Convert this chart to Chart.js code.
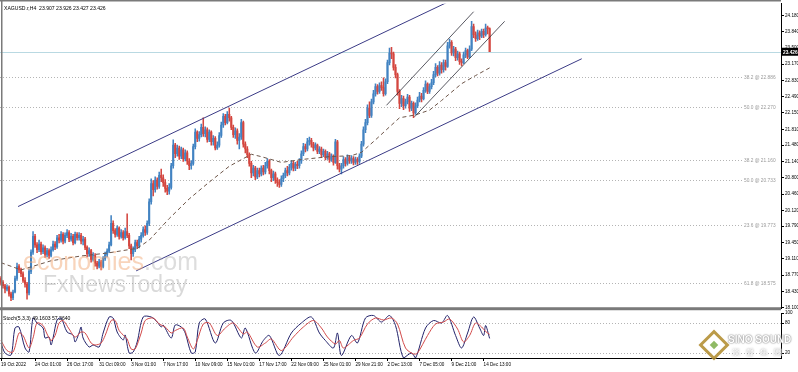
<!DOCTYPE html>
<html>
<head>
<meta charset="utf-8">
<script src="https://cdn.jsdelivr.net/npm/chart.js@4.4.1/dist/chart.umd.min.js"></script>
<style>
  html, body { margin: 0; padding: 0; background: #fff; }
  #wrap { position: relative; width: 798px; height: 372px; overflow: hidden; background: #fff; font-family: "Liberation Sans", sans-serif; }
  #mainBox { position: absolute; left: 0; top: 0; width: 798px; height: 312px; }
  #oscBox { position: absolute; left: 0; top: 300px; width: 798px; height: 72px; }
  .lbl { position: absolute; font-size: 5.1px; color: #000; white-space: pre; }
  .wm { position: absolute; font-family: "Liberation Sans", Arial, sans-serif; white-space: pre; pointer-events: none; }
  #logo { position: absolute; left: 703px; top: 334px; width: 22px; height: 22px; transform: rotate(45deg); border: 3px solid #b08a2a; background: #fff; box-sizing: border-box; opacity: .85; }
  #logo i { position: absolute; left: 5px; top: 5px; width: 6px; height: 6px; background: #7cae4a; }
</style>
</head>
<body>
<div id="wrap">
  <div id="mainBox"><canvas id="main" width="798" height="312"></canvas></div>
  <div id="oscBox"><canvas id="osc" width="798" height="72"></canvas></div>
  <div class="lbl" style="left:4px;top:5px">XAGUSD.r,H4  23.907 23.926 23.427 23.426</div>
  <div class="lbl" style="left:3px;top:315px">Stoch(5,3,3) 49.1603 57.2640</div>
  <div class="wm" style="left:23px;top:247px;font-size:25px;color:rgba(241,170,120,.5)">economies<span style="color:rgba(170,170,170,.4)">.com</span></div>
  <div class="wm" style="left:43px;top:271px;font-size:23px;color:rgba(160,160,160,.4)">FxNewsToday</div>
  <div id="logo"><i></i></div>
  <div class="wm" style="left:728px;top:334px;font-size:10px;font-weight:bold;color:#fff;text-shadow:0 0 2px #888,0 0 1px #666">SINO SOUND</div>
  <div class="wm" style="left:732px;top:347px;font-size:8px;letter-spacing:6px;color:#fff;text-shadow:0 0 2px #888">漢聲集團</div>
</div>
<script>
// XAGUSD H4, 19 Oct 2022 - 14 Dec 2022 (one entry per bar)
const firstOpen = 18.70;
const closes = [
  18.62, 18.55, 18.48, 18.52, 18.38, 18.30, 18.42, 18.70, 18.95, 18.88,
  18.80, 18.66, 18.58, 18.40, 18.85, 19.25, 19.58, 19.40, 19.30, 19.42,
  19.26, 19.34, 19.20, 19.28, 19.18, 19.30, 19.42, 19.36, 19.55, 19.50,
  19.62, 19.48, 19.60, 19.66, 19.52, 19.58, 19.45, 19.62, 19.55, 19.60,
  19.48, 19.52, 19.35, 19.22, 19.28, 19.10, 19.18, 19.02, 18.96, 19.05,
  18.95, 19.12, 19.20, 19.27, 19.40, 19.85, 19.70, 19.62, 19.75, 19.58,
  19.66, 19.55, 19.68, 19.60, 19.38, 19.22, 19.30, 19.45, 19.38, 19.52,
  19.60, 19.72, 19.66, 19.85, 20.30, 20.68, 20.55, 20.75, 20.62, 20.85,
  20.80, 20.70, 20.58, 20.52, 20.60, 21.05, 21.48, 21.30, 21.42, 21.25,
  21.38, 21.20, 21.32, 21.15, 21.05, 21.10, 21.45, 21.75, 21.62, 21.70,
  21.85, 21.72, 21.80, 21.60, 21.75, 21.55, 21.62, 21.42, 21.48, 21.68,
  21.90, 22.08, 21.95, 22.12, 22.05, 21.85, 21.70, 21.78, 21.58, 21.65,
  21.95, 21.50, 21.40, 21.28, 21.10, 20.90, 21.00, 20.82, 20.95, 20.88,
  21.00, 20.92, 21.05, 21.15, 20.95, 20.80, 20.88, 20.75, 20.70, 20.66,
  20.78, 20.85, 20.95, 20.90, 21.02, 21.10, 21.00, 21.08, 21.05, 21.15,
  21.30, 21.45, 21.40, 21.55, 21.58, 21.50, 21.42, 21.48, 21.35, 21.40,
  21.28, 21.35, 21.22, 21.30, 21.18, 21.25, 21.12, 21.55, 21.05, 20.98,
  21.05, 21.18, 21.10, 21.22, 21.15, 21.20, 21.12, 21.18, 21.14, 21.25,
  21.50, 21.80, 21.95, 22.25, 22.10, 22.38, 22.55, 22.70, 22.60, 22.72,
  22.68, 22.55, 22.80, 23.20, 23.40, 23.38, 23.10, 22.95, 22.60, 22.35,
  22.45, 22.30, 22.38, 22.48, 22.25, 22.35, 22.15, 22.30, 22.42, 22.50,
  22.45, 22.62, 22.75, 22.60, 22.70, 22.78, 22.95, 23.10, 22.98, 23.15,
  23.05, 23.20, 23.12, 23.55, 23.62, 23.40, 23.48, 23.30, 23.38, 23.22,
  23.20, 23.36, 23.45, 23.32, 23.48, 23.95, 23.78, 23.70, 23.82, 23.75,
  23.85, 23.78, 23.92, 23.907, 23.426
];
const highs = [
  18.74, 18.66, 18.58, 18.57, 18.55, 18.42, 18.46, 18.75, 19.02, 18.99,
  18.92, 18.84, 18.72, 18.62, 18.90, 19.30, 19.68, 19.62, 19.45, 19.50,
  19.46, 19.40, 19.38, 19.33, 19.32, 19.36, 19.48, 19.47, 19.60, 19.62,
  19.68, 19.66, 19.65, 19.72, 19.70, 19.64, 19.62, 19.67, 19.66, 19.66,
  19.64, 19.58, 19.56, 19.38, 19.34, 19.31, 19.24, 19.22, 19.06, 19.10,
  19.08, 19.16, 19.25, 19.32, 19.46, 20.01, 19.90, 19.74, 19.80, 19.78,
  19.72, 19.70, 19.75, 20.05, 19.64, 19.42, 19.36, 19.50, 19.50, 19.58,
  19.66, 19.78, 19.80, 19.90, 20.36, 20.78, 20.74, 20.82, 20.80, 20.92,
  20.98, 20.86, 20.76, 20.64, 20.68, 21.10, 21.59, 21.52, 21.48, 21.46,
  21.44, 21.42, 21.38, 21.36, 21.20, 21.16, 21.50, 21.82, 21.78, 21.76,
  21.92, 22.05, 21.86, 21.84, 21.80, 21.78, 21.68, 21.66, 21.55, 21.74,
  21.96, 22.14, 22.12, 22.18, 22.25, 22.08, 21.90, 21.84, 21.82, 21.72,
  22.02, 21.98, 21.55, 21.45, 21.32, 21.14, 21.06, 21.04, 21.00, 21.00,
  21.05, 21.06, 21.12, 21.20, 21.18, 20.98, 20.94, 20.92, 20.80, 20.76,
  20.84, 20.90, 21.00, 21.04, 21.08, 21.16, 21.14, 21.12, 21.14, 21.20,
  21.36, 21.52, 21.50, 21.62, 21.65, 21.62, 21.54, 21.53, 21.50, 21.45,
  21.44, 21.40, 21.38, 21.35, 21.33, 21.30, 21.28, 21.60, 21.58, 21.10,
  21.10, 21.24, 21.22, 21.28, 21.26, 21.26, 21.24, 21.23, 21.22, 21.30,
  21.56, 21.86, 22.02, 22.32, 22.38, 22.44, 22.62, 22.76, 22.74, 22.78,
  22.80, 22.88, 22.86, 23.25, 23.50, 23.52, 23.42, 23.16, 22.98, 22.64,
  22.52, 22.50, 22.44, 22.54, 22.52, 22.40, 22.38, 22.36, 22.48, 22.58,
  22.56, 22.68, 22.82, 22.78, 22.76, 22.85, 23.02, 23.18, 23.14, 23.22,
  23.20, 23.26, 23.25, 23.62, 23.69, 23.66, 23.54, 23.52, 23.44, 23.42,
  23.28, 23.42, 23.50, 23.48, 23.55, 24.06, 24.00, 23.84, 23.88, 23.86,
  23.90, 23.90, 24.00, 23.96, 23.926
];
const lows = [
  18.56, 18.50, 18.40, 18.44, 18.33, 18.24, 18.26, 18.40, 18.66, 18.82,
  18.74, 18.62, 18.52, 18.27, 18.36, 18.80, 19.20, 19.35, 19.24, 19.26,
  19.20, 19.22, 19.14, 19.15, 19.12, 19.15, 19.27, 19.30, 19.33, 19.44,
  19.46, 19.42, 19.44, 19.55, 19.47, 19.48, 19.40, 19.42, 19.50, 19.50,
  19.42, 19.40, 19.30, 19.15, 19.16, 19.04, 19.06, 18.96, 18.90, 18.92,
  18.88, 18.92, 19.08, 19.15, 19.24, 19.38, 19.64, 19.56, 19.58, 19.52,
  19.54, 19.50, 19.52, 19.55, 19.32, 19.09, 19.16, 19.26, 19.32, 19.34,
  19.46, 19.56, 19.60, 19.62, 19.80, 20.25, 20.42, 20.50, 20.56, 20.58,
  20.72, 20.62, 20.50, 20.45, 20.46, 20.56, 21.00, 21.22, 21.25, 21.18,
  21.20, 21.14, 21.15, 21.08, 20.97, 20.98, 21.06, 21.40, 21.55, 21.56,
  21.65, 21.66, 21.65, 21.54, 21.55, 21.48, 21.48, 21.38, 21.39, 21.44,
  21.64, 21.85, 21.90, 21.92, 21.98, 21.80, 21.64, 21.62, 21.50, 21.40,
  21.60, 21.44, 21.32, 21.22, 21.04, 20.80, 20.84, 20.76, 20.78, 20.82,
  20.84, 20.86, 20.88, 21.00, 20.88, 20.72, 20.74, 20.68, 20.62, 20.60,
  20.62, 20.72, 20.80, 20.84, 20.86, 20.96, 20.94, 20.95, 20.99, 21.00,
  21.10, 21.26, 21.34, 21.36, 21.48, 21.44, 21.36, 21.38, 21.30, 21.30,
  21.22, 21.24, 21.17, 21.18, 21.12, 21.14, 21.06, 21.10, 20.98, 20.92,
  20.88, 21.00, 21.04, 21.06, 21.10, 21.10, 21.07, 21.08, 21.08, 21.10,
  21.22, 21.46, 21.74, 21.90, 22.05, 22.06, 22.34, 22.50, 22.54, 22.56,
  22.62, 22.50, 22.52, 22.76, 23.15, 23.28, 23.04, 22.88, 22.52, 22.24,
  22.28, 22.22, 22.25, 22.34, 22.18, 22.20, 22.05, 22.12, 22.26, 22.38,
  22.38, 22.42, 22.58, 22.55, 22.56, 22.65, 22.74, 22.90, 22.92, 22.94,
  22.98, 23.00, 23.04, 23.10, 23.50, 23.35, 23.34, 23.24, 23.25, 23.16,
  23.13, 23.18, 23.30, 23.28, 23.30, 23.45, 23.72, 23.64, 23.66, 23.68,
  23.72, 23.72, 23.75, 23.80, 23.427
];

// moving average (dashed), read at sparse bars
const maIdx  = [0, 10, 25, 40, 53, 68, 74, 84, 94, 104, 114, 125, 130, 140, 150, 164, 175, 180, 187, 194, 199, 207, 214, 220, 230, 237, 244];
const maVals = [19.03, 18.88, 19.07, 19.17, 19.23, 19.33, 19.50, 19.95, 20.36, 20.71, 21.04, 21.29, 21.24, 21.12, 21.18, 21.24, 21.26, 21.33, 21.59, 21.86, 22.05, 22.11, 22.21, 22.41, 22.76, 22.93, 23.09];

// trend channel lines: [bar, price] end points
const channelUpper = [[8.5, 20.20], [222.5, 24.45]];
const channelLower = [[67.5, 18.86], [290, 23.28]];
const innerUpper   = [[192.5, 22.31], [236, 24.26]];
const innerLower   = [[206.5, 22.07], [251.5, 24.06]];

// fibonacci levels
const fibPrices = [22.89, 22.27, 21.16, 20.75, 19.81, 18.60];
const fibLabels = ['38.2 @ 22.886', '50.0 @ 22.270', '38.2 @ 21.160', '50.0 @ 20.733', '23.6 @ 19.773', '61.8 @ 18.575'];
const bidPrice = 23.426;

// price axis tick labels
const yTicks = [24.180, 23.840, 23.500, 23.170, 22.830, 22.490, 22.150, 21.810, 21.480, 21.140,
                20.800, 20.460, 20.120, 19.790, 19.450, 19.110, 18.770, 18.430, 18.100];

// time axis
const xTickIdx = [0, 17, 33, 49, 65, 81, 97, 113, 129, 145, 161, 177, 193, 209, 225, 241];
const xTickLabels = ['19 Oct 2022', '24 Oct 01:00', '26 Oct 17:00', '31 Oct 09:00', '3 Nov 01:00', '7 Nov 17:00',
  '10 Nov 09:00', '15 Nov 01:00', '17 Nov 17:00', '22 Nov 09:00', '25 Nov 01:00', '29 Nov 21:00',
  '2 Dec 13:00', '7 Dec 05:00', '9 Dec 21:00', '14 Dec 13:00'];

// Stochastic (5,3,3), read at turning points
const kIdx  = [0, 2, 5, 7, 9, 12, 14, 16, 18, 21, 22, 24, 25, 26, 28, 30, 33, 36, 37, 39, 40, 41, 44, 46, 49, 51, 54, 56, 58, 61, 62, 64, 66, 68, 71, 75, 78, 80, 81, 85, 87, 90, 92, 95, 97, 99,
               102, 107, 111, 115, 120, 122, 127, 131, 134, 139, 145, 150, 155, 159, 162, 166, 168, 170, 175, 178, 182, 186, 190, 194, 197, 201, 205, 207, 212, 216, 220, 223, 227, 230, 233, 236, 239, 241, 242, 244];
const kVals = [40, 20, 16, 70, 72, 30, 22, 90, 80, 70, 50, 52, 36, 50, 86, 90, 62, 56, 42, 60, 72, 50, 32, 36, 32, 60, 92, 90, 62, 46, 56, 20, 22, 42, 92, 92, 82, 72, 76, 50, 76, 72, 60, 20, 22, 80,
               88, 40, 80, 85, 50, 70, 20, 45, 55, 15, 60, 80, 92, 60, 45, 30, 60, 15, 55, 40, 90, 95, 82, 95, 75, 10, 20, 10, 70, 85, 80, 95, 55, 30, 60, 92, 70, 55, 75, 49.16];
const dIdx  = [0, 3, 6, 9, 11, 14, 16, 18, 21, 23, 25, 27, 29, 31, 34, 37, 40, 42, 45, 47, 50, 52, 55, 57, 59, 62, 63, 65, 67, 70, 72, 76, 79, 82, 85, 87, 91, 93, 96, 98,
               101, 104, 108, 112, 116, 121, 123, 128, 132, 135, 140, 146, 151, 156, 160, 163, 167, 169, 171, 176, 179, 183, 187, 191, 195, 198, 202, 206, 208, 213, 217, 221, 224, 228, 231, 234, 237, 240, 242, 244];
const dVals = [45, 25, 22, 60, 55, 30, 50, 80, 75, 58, 45, 55, 80, 85, 68, 52, 62, 60, 40, 36, 40, 55, 85, 85, 65, 52, 48, 28, 28, 60, 85, 90, 78, 72, 60, 65, 70, 52, 28, 45,
               78, 80, 55, 70, 80, 58, 62, 32, 40, 48, 25, 52, 72, 85, 70, 52, 38, 45, 30, 45, 50, 78, 90, 86, 90, 78, 30, 18, 20, 55, 78, 82, 88, 68, 42, 55, 80, 72, 63, 57.26];
const stochLevels = [80, 20];

const X_MIN = -0.5, X_MAX = 389.5;
const UP = '#4283c2', DOWN = '#d4463f';

const opens = closes.map((c, i) => i === 0 ? firstOpen : closes[i - 1]);
const barColors = closes.map((c, i) => c >= opens[i] ? UP : DOWN);
const pts = (idx, vals) => idx.map((x, k) => ({ x: x, y: vals[k] }));
const seg = (p) => p.map(q => ({ x: q[0], y: q[1] }));
const tiny = { family: 'Liberation Sans', size: 4.6 };

Chart.defaults.animation = false;
Chart.defaults.font.family = 'Liberation Sans';

const mainDecor = {
  id: 'mainDecor',
  beforeDatasetsDraw(chart) {
    const { ctx, chartArea: a, scales: { y } } = chart;
    ctx.save();
    ctx.font = '4.8px "Liberation Sans"';
    ctx.lineWidth = 1;
    ctx.setLineDash([1, 2]);
    ctx.strokeStyle = '#b4b4b4';
    ctx.fillStyle = '#9a9a9a';
    fibPrices.forEach((p, k) => {
      const py = Math.round(y.getPixelForValue(p)) + 0.5;
      ctx.beginPath(); ctx.moveTo(a.left, py); ctx.lineTo(a.right - 39, py); ctx.stroke();
      ctx.fillText(fibLabels[k], a.right - 37, py + 1.5);
    });
    ctx.setLineDash([]);
    ctx.strokeStyle = '#b9d9e2';
    const by = Math.round(y.getPixelForValue(bidPrice)) + 0.5;
    ctx.beginPath(); ctx.moveTo(a.left, by); ctx.lineTo(a.right, by); ctx.stroke();
    ctx.restore();
  },
  afterDraw(chart) {
    const { ctx, chartArea: a, scales: { y } } = chart;
    ctx.save();
    ctx.fillStyle = '#7a7a7a';
    ctx.fillRect(0, a.bottom - 1, a.right, 3);
    ctx.fillRect(1, 0, 1.5, chart.height);
    ctx.fillRect(0, 0, a.right, 1.5);
    const by = y.getPixelForValue(bidPrice);
    ctx.fillStyle = '#000';
    ctx.fillRect(a.right + 1, by - 4, 17, 8);
    ctx.fillStyle = '#fff';
    ctx.font = 'bold 4.8px "Liberation Sans"';
    ctx.textBaseline = 'middle';
    ctx.fillText(bidPrice.toFixed(3), a.right + 2, by + 0.5);
    ctx.restore();
  }
};

new Chart(document.getElementById('main'), {
  data: {
    datasets: [
      { type: 'bar', data: closes.map((c, i) => ({ x: i, y: [lows[i], highs[i]] })), backgroundColor: barColors, barThickness: 0.9, grouped: false, order: 3 },
      { type: 'bar', data: closes.map((c, i) => ({ x: i, y: [opens[i], c] })), backgroundColor: barColors, barThickness: 1.4, minBarLength: 1, grouped: false, order: 2 },
      { type: 'line', data: pts(maIdx, maVals), borderColor: '#6d5548', borderWidth: 1, borderDash: [4, 3], pointRadius: 0, spanGaps: true, order: 1 },
      { type: 'line', data: seg(channelUpper), borderColor: '#3b3b86', borderWidth: 1, pointRadius: 0, order: 0 },
      { type: 'line', data: seg(channelLower), borderColor: '#3b3b86', borderWidth: 1, pointRadius: 0, order: 0 },
      { type: 'line', data: seg(innerUpper), borderColor: '#2e2e3a', borderWidth: 0.8, pointRadius: 0, order: 0 },
      { type: 'line', data: seg(innerLower), borderColor: '#2e2e3a', borderWidth: 0.8, pointRadius: 0, order: 0 }
    ]
  },
  options: {
    responsive: false,
    layout: { padding: { left: 0, right: 0, top: 2, bottom: 1 } },
    plugins: { legend: { display: false }, tooltip: { enabled: false } },
    scales: {
      x: { type: 'linear', min: X_MIN, max: X_MAX, offset: false, bounds: 'data', display: false, grid: { offset: false } },
      y: {
        position: 'right', min: 18.081, max: 24.426,
        afterFit: s => { s.width = 17; },
        afterBuildTicks: s => { s.ticks = yTicks.map(v => ({ value: v })); },
        ticks: { autoSkip: false, font: tiny, color: '#000', padding: 1, callback: v => Number(v).toFixed(3) },
        grid: { drawOnChartArea: false, tickLength: 3, color: '#000' },
        border: { color: '#000' }
      }
    }
  },
  plugins: [mainDecor]
});

const oscDecor = {
  id: 'oscDecor',
  beforeDatasetsDraw(chart) {
    const { ctx, chartArea: a, scales: { y } } = chart;
    ctx.save();
    ctx.setLineDash([1, 2]);
    ctx.strokeStyle = '#b4b4b4';
    stochLevels.forEach(v => {
      const py = Math.round(y.getPixelForValue(v)) + 0.5;
      ctx.beginPath(); ctx.moveTo(a.left, py); ctx.lineTo(a.right, py); ctx.stroke();
    });
    ctx.restore();
  },
  afterDraw(chart) {
    const { ctx, chartArea: a } = chart;
    ctx.save();
    ctx.fillStyle = '#7a7a7a';
    ctx.fillRect(1, a.top - 1, 1.5, a.bottom - a.top + 1);
    ctx.fillStyle = '#000';
    ctx.fillRect(0, a.bottom, a.right, 1);
    ctx.restore();
  }
};

new Chart(document.getElementById('osc'), {
  data: {
    datasets: [
      { type: 'line', data: pts(dIdx, dVals), borderColor: '#d24a4a', borderWidth: 1, pointRadius: 0, tension: 0.3, spanGaps: true },
      { type: 'line', data: pts(kIdx, kVals), borderColor: '#22226a', borderWidth: 1, pointRadius: 0, tension: 0.3, spanGaps: true }
    ]
  },
  options: {
    responsive: false,
    layout: { padding: { left: 0, right: 0, top: 13, bottom: 0 } },
    plugins: { legend: { display: false }, tooltip: { enabled: false } },
    scales: {
      x: {
        type: 'linear', min: X_MIN, max: X_MAX, offset: false,
        afterFit: s => { s.height = 14; },
        afterBuildTicks: s => { s.ticks = xTickIdx.map(v => ({ value: v })); },
        ticks: { autoSkip: false, maxRotation: 0, align: 'start', font: tiny, color: '#000', padding: 1,
                 callback: v => xTickLabels[xTickIdx.indexOf(v)] },
        grid: { drawOnChartArea: false, tickLength: 3, color: '#000' },
        border: { color: '#000' }
      },
      y: {
        position: 'right', min: 10, max: 100,
        afterFit: s => { s.width = 17; },
        afterBuildTicks: s => { s.ticks = [100, 80, 20].map(v => ({ value: v })); },
        ticks: { autoSkip: false, font: tiny, color: '#000', padding: 1 },
        grid: { drawOnChartArea: false, tickLength: 3, color: '#000' },
        border: { color: '#000' }
      }
    }
  },
  plugins: [oscDecor]
});
</script>
</body>
</html>
